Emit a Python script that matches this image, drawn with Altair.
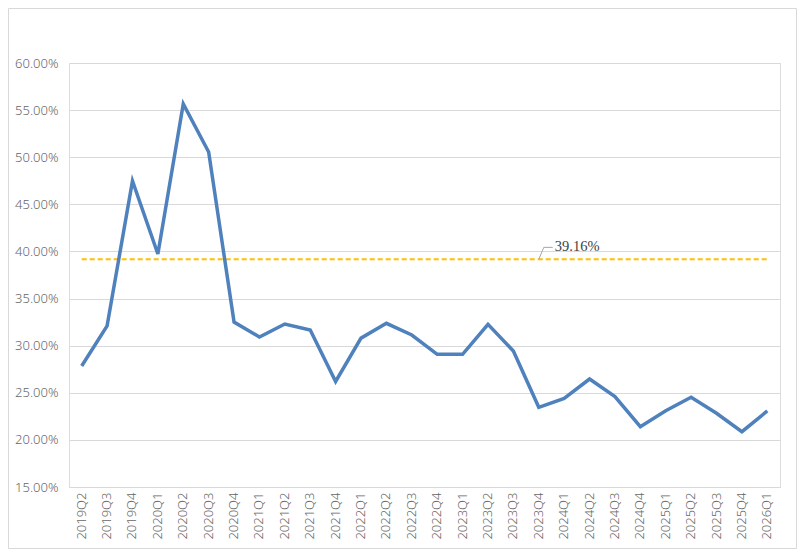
import altair as alt
import pandas as pd

quarters = ["2019Q2", "2019Q3", "2019Q4", "2020Q1", "2020Q2", "2020Q3", "2020Q4",
            "2021Q1", "2021Q2", "2021Q3", "2021Q4", "2022Q1", "2022Q2", "2022Q3",
            "2022Q4", "2023Q1", "2023Q2", "2023Q3", "2023Q4", "2024Q1", "2024Q2",
            "2024Q3", "2024Q4", "2025Q1", "2025Q2", "2025Q3", "2025Q4", "2026Q1"]
values = [27.84, 32.1, 47.48, 39.73, 55.65, 50.55, 32.5,
          30.92, 32.3, 31.66, 26.2, 30.8, 32.37, 31.13,
          29.08, 29.08, 32.26, 29.43, 23.46, 24.41, 26.46,
          24.59, 21.4, 23.1, 24.52, 22.82, 20.87, 23.07]
average = 39.16
avg_label_quarter = "2023Q4"
y_ticks = [0.15, 0.20, 0.25, 0.30, 0.35, 0.40, 0.45, 0.50, 0.55, 0.60]

df = pd.DataFrame({
    "quarter": quarters,
    "value": [v / 100 for v in values],
    "avg": [average / 100] * len(quarters),
})
ann = pd.DataFrame({"quarter": [avg_label_quarter], "avg": [average / 100],
                    "label": [f"{average:.2f}%"]})

FONT = "Noto Sans"
LABEL_COLOR = "#666666"

x_enc = alt.X("quarter:N", sort=quarters, title=None,
              scale=alt.Scale(paddingInner=0, paddingOuter=0),
              axis=alt.Axis(labelAngle=-90, labelFont=FONT, labelFontSize=13,
                            labelFontWeight=300,
                            labelColor=LABEL_COLOR, ticks=False, domain=False,
                            labelPadding=5, grid=False))
y_scale = alt.Scale(domain=[0.15, 0.60], nice=False)
y_axis = alt.Axis(values=y_ticks, format=".2%", labelFont=FONT, labelFontSize=13,
                  labelFontWeight=300,
                  labelColor=LABEL_COLOR, ticks=False, domain=False, labelPadding=11,
                  gridColor="#d9d9d9", gridWidth=1)

base = alt.Chart(df)

avg_line = base.mark_line(color="#FFC000", strokeWidth=2, strokeDash=[5, 3]).encode(
    x=x_enc,
    y=alt.Y("avg:Q", scale=y_scale, axis=y_axis, title=None),
)

main_line = base.mark_line(color="#4F81BD", strokeWidth=3.5).encode(
    x=alt.X("quarter:N", sort=quarters),
    y=alt.Y("value:Q", scale=y_scale),
)

ann_base = alt.Chart(ann)
leader1 = ann_base.mark_rule(color="#a6a6a6", strokeWidth=1, x2Offset=5, y2Offset=-12).encode(
    x=alt.X("quarter:N", sort=quarters),
    x2=alt.X2("quarter"),
    y=alt.Y("avg:Q", scale=y_scale),
    y2="avg:Q",
)
leader2 = ann_base.mark_rule(color="#a6a6a6", strokeWidth=1, xOffset=5, yOffset=-12,
                             x2Offset=14, y2Offset=-12).encode(
    x=alt.X("quarter:N", sort=quarters),
    x2=alt.X2("quarter"),
    y=alt.Y("avg:Q", scale=y_scale),
    y2="avg:Q",
)
ann_text = ann_base.mark_text(font="Liberation Serif", fontSize=14.5, color="#404040",
                              align="left", baseline="middle", dx=16, dy=-12).encode(
    x=alt.X("quarter:N", sort=quarters),
    y=alt.Y("avg:Q", scale=y_scale),
    text="label:N",
)

frame = alt.Chart(pd.DataFrame({"a": [0]})).mark_rect(
    fill=None, stroke="#d9d9d9", strokeWidth=1, clip=False
).encode(x=alt.value(-60.5), x2=alt.value(727.5), y=alt.value(-54.5), y2=alt.value(485.5))

chart = alt.layer(frame, avg_line, main_line, leader1, leader2, ann_text).properties(
    width=711, height=424,
    autosize=alt.AutoSizeParams(type="none"),
    padding={"left": 61, "top": 55, "right": 17, "bottom": 62},
).configure_view(stroke=None).configure(background="white")

chart.save("out.html", embed_options={"renderer": "svg", "actions": False})
